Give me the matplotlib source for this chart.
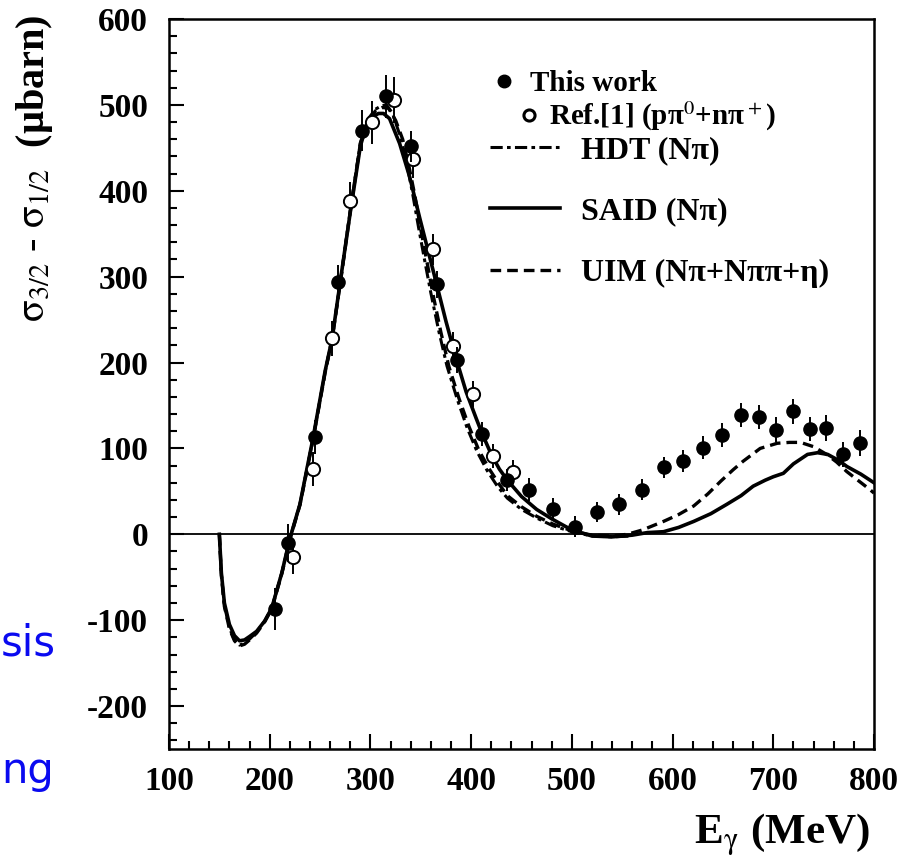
import matplotlib

matplotlib.use("Agg")
import matplotlib.pyplot as plt
from matplotlib.lines import Line2D
from matplotlib.ticker import MultipleLocator

# --- data ------------------------------------------------------------------
# This work (filled points)
work_e = [205, 218, 245, 268, 292, 315, 340, 366, 386, 411, 436, 457, 481, 503,
          525, 547, 570, 591, 610, 630, 649, 668, 686, 703, 720, 736, 752, 769, 786]
work_y = [-87, -10, 113, 294, 470, 510, 452, 291, 203, 117, 63, 52, 29, 9,
          26, 35, 52, 78, 85, 101, 116, 139, 137, 122, 143, 123, 124, 93, 106]
work_err = [25, 22, 20, 20, 24, 25, 18, 16, 15, 14, 13, 13, 13, 12,
            12, 12, 12, 12, 13, 13, 14, 14, 14, 14, 15, 14, 15, 15, 15]

# Ref.[1] (open points)
ref_e = [223, 243, 262, 280, 302, 323, 342, 362, 382, 402, 422, 442]
ref_y = [-26, 76, 228, 388, 480, 506, 437, 332, 219, 163, 91, 73]
ref_err = [20, 20, 20, 22, 25, 27, 22, 18, 16, 15, 14, 14]

# SAID (N pi), solid
said_e = [150, 152, 155, 160, 165, 170, 175, 180, 187, 195, 202, 212, 220, 230,
          243, 255, 262, 270, 280, 290, 296, 302, 308, 313, 319, 329, 339, 349,
          359, 366, 375, 385, 395, 405, 411, 420, 428, 436, 450, 465, 480, 500,
          520, 540, 560, 575, 591, 606, 621, 638, 654, 668, 680, 692, 700, 710,
          720, 734, 744, 754, 765, 773, 787, 800]
said_y = [0, -45, -80, -105, -118, -124, -123, -119, -113, -101, -86, -45, -5, 35,
          112, 190, 228, 294, 375, 452, 476, 486, 490, 490, 484, 455, 416, 368,
          322, 290, 248, 205, 166, 135, 117, 93, 76, 63, 44, 29, 18, 5,
          -2, -3, -1, 2, 3, 8, 15, 24, 35, 45, 56, 63, 67, 71,
          82, 93, 95, 93, 86, 79, 70, 60]

# UIM (N pi + N pi pi + eta), dashed
uim_e = [150, 152, 155, 160, 165, 170, 175, 180, 187, 195, 202, 212, 220, 230,
         243, 255, 262, 270, 280, 290, 298, 305, 312, 318, 325, 332, 338, 344,
         350, 356, 362, 370, 378, 388, 398, 408, 418, 428, 436, 450, 465, 481,
         500, 520, 540, 555, 570, 591, 606, 621, 635, 648, 660, 670, 687, 704,
         716, 727, 740, 753, 763, 773, 785, 796, 800]
uim_y = [0, -48, -84, -110, -124, -130, -128, -123, -115, -102, -87, -46, -6, 34,
         110, 188, 228, 292, 376, 455, 482, 493, 497, 496, 482, 460, 430, 395,
         355, 318, 280, 235, 195, 158, 125, 97, 76, 58, 45, 32, 21, 12,
         4, -1, -2, 0, 5, 15, 23, 33, 47, 62, 75, 85, 100, 106,
         107, 107, 102, 93, 84, 73, 62, 52, 48]

# HDT (N pi), dash-dot
hdt_e = [150, 152, 155, 160, 165, 170, 175, 180, 187, 195, 202, 212, 220, 230,
         243, 255, 262, 270, 280, 290, 298, 305, 311, 316, 322, 330, 336, 342,
         348, 354, 360, 368, 376, 386, 396, 406, 416, 426, 436, 450, 465, 481,
         500, 520, 540, 560]
hdt_y = [0, -47, -83, -109, -123, -129, -127, -122, -114, -101, -86, -45, -5, 35,
         111, 189, 228, 293, 377, 456, 484, 495, 499, 500, 490, 462, 432, 396,
         356, 318, 281, 236, 196, 158, 124, 96, 74, 56, 42, 29, 19, 10,
         3, -2, -3, -2]

x_ticks = [100, 200, 300, 400, 500, 600, 700, 800]
y_ticks = [-200, -100, 0, 100, 200, 300, 400, 500, 600]

plt.rcParams["font.family"] = ["Liberation Serif", "DejaVu Serif"]
plt.rcParams["mathtext.fontset"] = "stix"
plt.rcParams["axes.unicode_minus"] = False

fig = plt.figure(figsize=(9.13, 8.68), dpi=100)
W, H = 913, 868
ax = fig.add_axes([169 / W, 1 - 749 / H, 705 / W, 730 / H])

hdt_dash = (4, 1.4, 1.2, 1.4)
uim_dash = (3.2, 1.8)
ax.axhline(0, color="black", lw=1.3, zorder=1)
ax.plot(hdt_e, hdt_y, color="black", lw=2.2, dashes=hdt_dash, zorder=2)
ax.plot(uim_e, uim_y, color="black", lw=2.4, dashes=uim_dash, zorder=2)
ax.plot(said_e, said_y, color="black", lw=2.6, zorder=3)

ax.errorbar(ref_e, ref_y, yerr=ref_err, fmt="o", ms=9.5, mfc="white", mec="black",
            mew=1.4, ecolor="black", elinewidth=1.4, capsize=0, zorder=4)
ax.errorbar(work_e, work_y, yerr=work_err, fmt="o", ms=9.5, color="black",
            ecolor="black", elinewidth=1.4, capsize=0, zorder=5)

ax.set_xlim(100, 800)
ax.set_ylim(-250, 600)
ax.set_xticks(x_ticks)
ax.set_yticks(y_ticks)
ax.xaxis.set_minor_locator(MultipleLocator(20))
ax.yaxis.set_minor_locator(MultipleLocator(20))
ax.tick_params(which="both", direction="in", top=False, right=False, width=1.5)
ax.tick_params(which="major", length=11, labelsize=24)
ax.tick_params(which="minor", length=5.5)
ax.tick_params(axis="y", pad=15)
ax.tick_params(axis="x", pad=12)
for lab in ax.get_xticklabels() + ax.get_yticklabels():
    lab.set_fontweight("bold")
for sp in ax.spines.values():
    sp.set_linewidth(1.8)

# legends: one per marker entry (they are indented differently), one for curves
leg_font = {"size": 23, "weight": "bold"}
mark_font = {"size": 21, "weight": "bold"}
h_work = Line2D([], [], ls="none", marker="o", ms=9, color="black")
h_ref = Line2D([], [], ls="none", marker="o", ms=8, mfc="white", mec="black", mew=2.2)
leg1 = ax.legend([h_work], ["This work"], loc="upper left",
                 bbox_to_anchor=(0.45, 0.93), frameon=False, prop=mark_font,
                 handlelength=1.2, handletextpad=0.3, borderpad=0, borderaxespad=0)
ax.add_artist(leg1)
leg2 = ax.legend([h_ref], ["Ref.[1] (pπ$^0$+nπ$^+$)"], loc="upper left",
                 bbox_to_anchor=(0.49, 0.889), frameon=False, prop=mark_font,
                 handlelength=1.0, handletextpad=0.2, borderpad=0, borderaxespad=0)
ax.add_artist(leg2)
h_hdt = Line2D([], [], color="black", lw=2.2, dashes=hdt_dash)
h_said = Line2D([], [], color="black", lw=2.6)
h_uim = Line2D([], [], color="black", lw=2.4, dashes=uim_dash)
ax.legend([h_hdt, h_said, h_uim],
          ["HDT (Nπ)", "SAID (Nπ)", "UIM (Nπ+Nππ+η)"],
          loc="upper left", bbox_to_anchor=(0.455, 0.84), frameon=False,
          prop=leg_font, handlelength=2.2, handletextpad=0.65, labelspacing=1.0,
          borderpad=0, borderaxespad=0)

fig.text(35 / W, 1 - 14 / H,
         r"$\mathrm{\sigma}_{3/2}$ - $\mathrm{\sigma}_{1/2}$  (µbarn)",
         rotation=90, ha="center", va="top", fontsize=29, fontweight="bold")
fig.text(870 / W, 1 - 835 / H, r"E$_{\mathrm{\gamma}}$ (MeV)", ha="right",
         va="center", fontsize=31, fontweight="bold")

# slide text partly hidden behind the plot
fig.text(1 / W, 1 - 655 / H, "sis", ha="left", va="baseline", fontsize=30,
         color="#0a0af0", family="DejaVu Sans")
fig.text(1 / W, 1 - 783 / H, "ng", ha="left", va="baseline", fontsize=30,
         color="#0a0af0", family="DejaVu Sans")

fig.savefig("out.png", dpi=100)
